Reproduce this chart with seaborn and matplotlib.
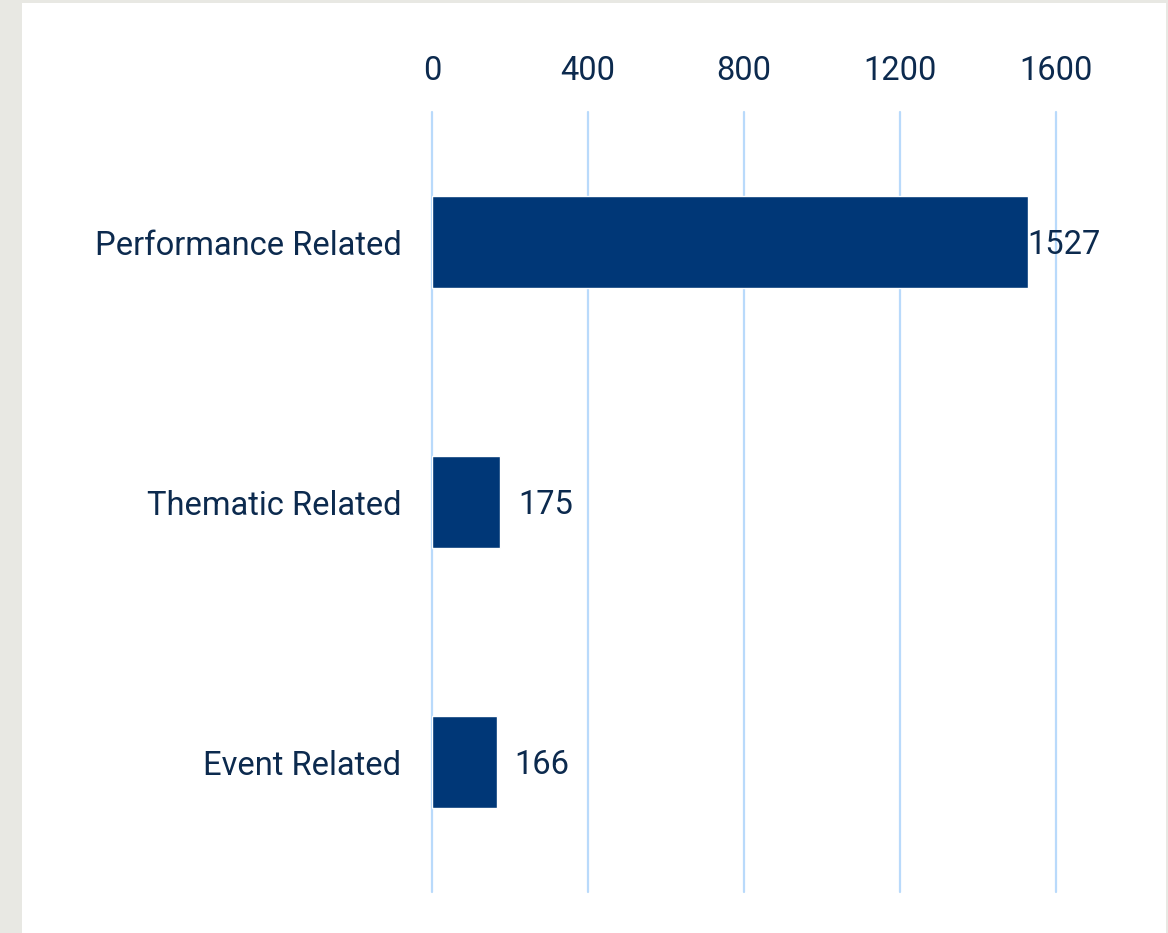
import matplotlib.pyplot as plt
import matplotlib.patches as mpatches
import seaborn as sns
import pandas as pd

categories = ["Performance Related", "Thematic Related", "Event Related"]
counts = [1527, 175, 166]
xticks = [0, 400, 800, 1200, 1600]

bar_color = "#003777"
text_color = "#0c2a4e"
grid_color = "#b9dafb"

df = pd.DataFrame({"category": categories, "count": counts})

sns.set_style("white")
plt.rcParams["font.family"] = ["Roboto", "DejaVu Sans"]

fig = plt.figure(figsize=(11.68, 9.33), dpi=100)
fig.patch.set_facecolor("#e8e8e3")
# white panel inside the grey frame
fig.patches.append(mpatches.Rectangle((22 / 1168, 0), (1166 - 22) / 1168, 930 / 933,
                                      transform=fig.transFigure, facecolor="white",
                                      edgecolor="none", zorder=-10))

ax = fig.add_axes([432 / 1168, 41 / 933, 624 / 1168, 780 / 933])
ax.set_facecolor("none")
sns.barplot(data=df, x="count", y="category", color=bar_color, width=0.354,
            saturation=1, ax=ax, zorder=3)

fs = 23.5
ax.set_xlim(0, 1600)
ax.set_ylim(2.5, -0.5)
ax.set_xticks(xticks)
ax.set_xticklabels([str(t) for t in xticks])
ax.xaxis.tick_top()
ax.tick_params(axis="x", length=0, pad=18, labelsize=fs, labelcolor=text_color)
ax.tick_params(axis="y", length=0, pad=22, labelsize=fs, labelcolor=text_color)
for t in xticks:
    ax.axvline(t, color=grid_color, lw=1.6, zorder=1, clip_on=False)
for s in ax.spines.values():
    s.set_visible(False)
ax.set_xlabel("")
ax.set_ylabel("")

for i, v in enumerate(counts):
    pad = 0 if v > 1500 else 18
    ax.annotate(str(v), (v, i), xytext=(pad * 0.72, -2.5), textcoords="offset points",
                ha="left", va="center", fontsize=fs, color=text_color, zorder=4)

fig.savefig("out.png", dpi=100, facecolor=fig.get_facecolor())
